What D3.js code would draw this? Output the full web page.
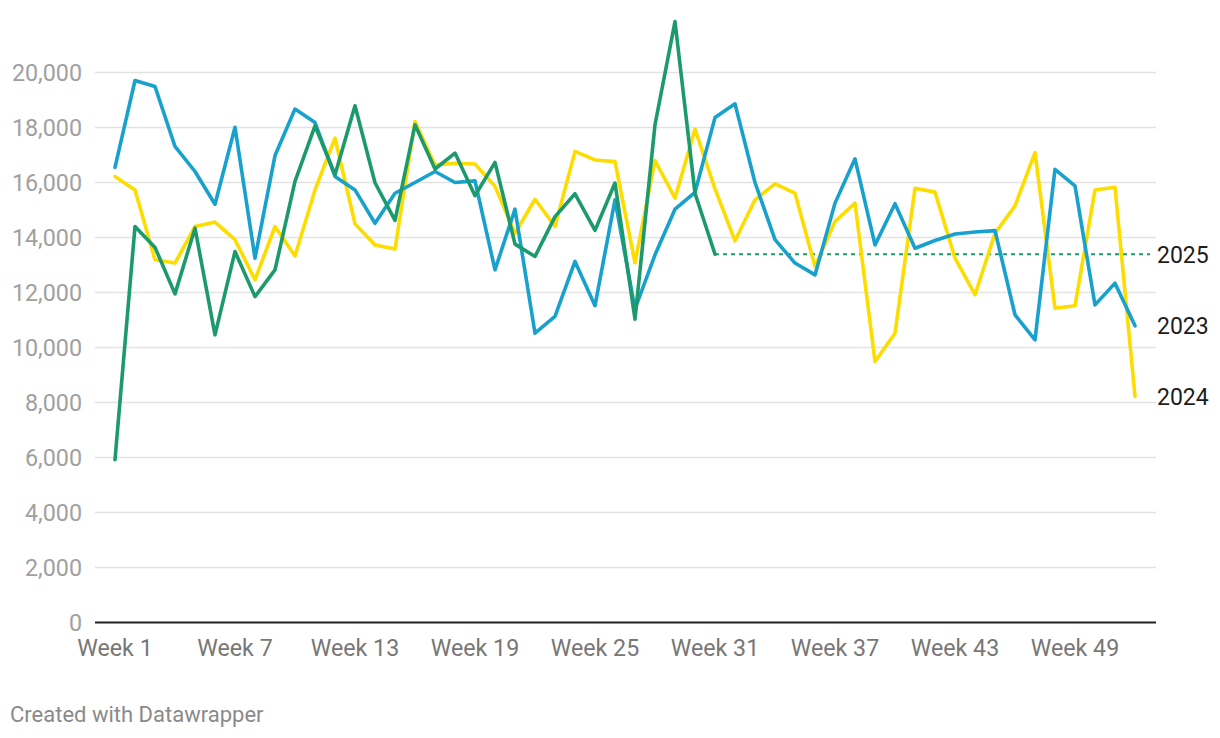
<!DOCTYPE html>
<html>
<head>
<meta charset="utf-8">
<script src="https://cdn.jsdelivr.net/npm/d3@7"></script>
<style>
  html, body { margin: 0; padding: 0; background: #fff; }
  svg { display: block; font-family: Roboto, "Noto Sans", sans-serif; }
</style>
</head>
<body>
<svg id="chart" width="1220" height="738"></svg>
<script>
const weeks = d3.range(1, 53);
const xTickWeeks = [1, 7, 13, 19, 25, 31, 37, 43, 49];
const yTicks = [0, 2000, 4000, 6000, 8000, 10000, 12000, 14000, 16000, 18000, 20000];

const values2023 = [16550, 19710, 19490, 17310, 16400, 15210, 18010, 13250, 16980, 18670,
  18180, 16220, 15730, 14520, 15610, 16000, 16400, 16000, 16060, 12825,
  15030, 10520, 11130, 13130, 11520, 15370, 11400, 13370, 15030, 15640,
  18360, 18860, 16000, 13920, 13070, 12640, 15250, 16860, 13730, 15230,
  13610, 13890, 14130, 14200, 14250, 11190, 10280, 16480, 15880, 11550,
  12340, 10790];
const values2024 = [16220, 15730, 13190, 13070, 14400, 14560, 13920, 12460, 14400, 13330,
  15730, 17610, 14500, 13730, 13580, 18220, 16640, 16700, 16670, 15860,
  14150, 15390, 14400, 17130, 16820, 16760, 13080, 16800, 15430, 17940,
  15770, 13880, 15370, 15950, 15610, 12950, 14580, 15250, 9490, 10520,
  15790, 15650, 13250, 11920, 14150, 15150, 17090, 11430, 11520, 15730,
  15830, 8220];
const values2025 = [5920, 14400, 13640, 11950, 14340, 10460, 13490, 11850, 12820, 16040,
  18060, 16280, 18790, 15990, 14620, 18100, 16490, 17070, 15520, 16730,
  13760, 13310, 14760, 15590, 14260, 15980, 11030, 18100, 21850, 15610,
  13390];

const seriesNames = ["2024", "2023", "2025"];
const seriesColors = { "2023": "#18a1cd", "2024": "#fddc00", "2025": "#1d9a6c" };
const seriesValues = { "2023": values2023, "2024": values2024, "2025": values2025 };

const svg = d3.select("#chart");
const x = d3.scaleLinear().domain([1, 52]).range([115, 1135]);
const y = d3.scaleLinear().domain([0, 20000]).range([622.5, 72.5]);
const plotLeft = 95, plotRight = 1156;

// gridlines
svg.append("g").selectAll("line")
  .data(yTicks.filter(d => d > 0))
  .join("line")
  .attr("x1", plotLeft).attr("x2", plotRight)
  .attr("y1", d => y(d)).attr("y2", d => y(d))
  .attr("stroke", "#e3e3e3").attr("stroke-width", 1.3);

// y tick labels
svg.append("g").selectAll("text")
  .data(yTicks)
  .join("text")
  .attr("x", 82).attr("y", d => y(d))
  .attr("dy", "0.36em")
  .attr("text-anchor", "end")
  .attr("font-size", 23.3)
  .attr("fill", "#a0a0a0")
  .text(d => d3.format(",")(d));

// baseline
svg.append("line")
  .attr("x1", plotLeft).attr("x2", plotRight)
  .attr("y1", y(0)).attr("y2", y(0))
  .attr("stroke", "#222").attr("stroke-width", 2);

// x tick labels
svg.append("g").selectAll("text")
  .data(xTickWeeks)
  .join("text")
  .attr("x", d => x(d)).attr("y", 656)
  .attr("text-anchor", "middle")
  .attr("font-size", 23.2)
  .attr("fill", "#777")
  .text(d => "Week " + d);

const line = d3.line().x((d, i) => x(weeks[i])).y(d => y(d));

// dashed continuation of 2025
const last2025 = values2025[values2025.length - 1];
svg.append("line")
  .attr("x1", x(values2025.length)).attr("x2", plotRight - 6)
  .attr("y1", y(last2025)).attr("y2", y(last2025))
  .attr("stroke", seriesColors["2025"])
  .attr("stroke-width", 2)
  .attr("stroke-dasharray", "4,4");

seriesNames.forEach(name => {
  svg.append("path")
    .datum(seriesValues[name])
    .attr("d", line)
    .attr("fill", "none")
    .attr("stroke", seriesColors[name])
    .attr("stroke-width", 3.6)
    .attr("stroke-linejoin", "round")
    .attr("stroke-linecap", "round");
});

// end labels
const labelData = [
  { name: "2025", v: last2025 },
  { name: "2023", v: values2023[values2023.length - 1] },
  { name: "2024", v: values2024[values2024.length - 1] }
];
svg.append("g").selectAll("text")
  .data(labelData)
  .join("text")
  .attr("x", 1157).attr("y", d => y(d.v))
  .attr("dy", "0.36em")
  .attr("font-size", 23)
  .attr("fill", "#1d1d1d")
  .text(d => d.name);

// footer
svg.append("text")
  .attr("x", 10).attr("y", 722)
  .attr("font-size", 22)
  .attr("fill", "#8a8a8a")
  .text("Created with Datawrapper");
</script>
</body>
</html>
